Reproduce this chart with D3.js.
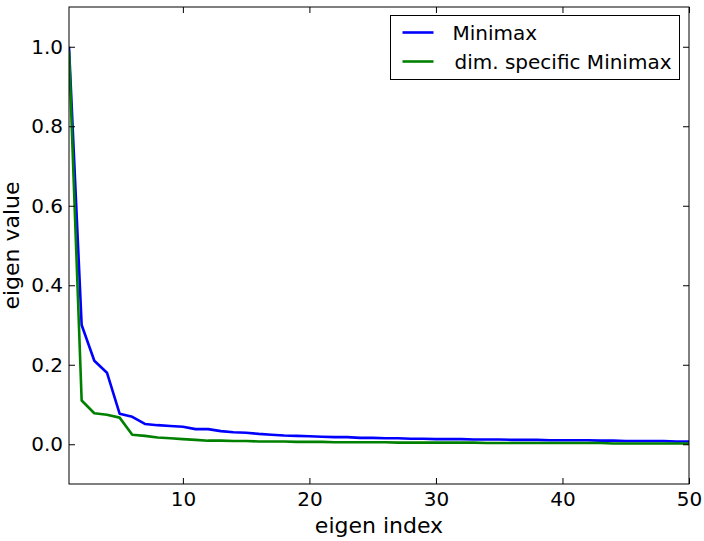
<!DOCTYPE html>
<html>
<head>
<meta charset="utf-8">
<script src="https://cdn.jsdelivr.net/npm/d3@7"></script>
<style>
  body { margin: 0; background: #fff; }
  svg { font-family: 'DejaVu Sans', sans-serif; }
</style>
</head>
<body>
<div id="chart"></div>
<script>
const indices = d3.range(1, 51)

const minimax = [1.0, 0.30, 0.21, 0.18, 0.077, 0.069, 0.051, 0.048, 0.046, 0.044,
  0.038, 0.038, 0.033, 0.030, 0.029, 0.026, 0.024, 0.022, 0.021, 0.020,
  0.019, 0.018, 0.018, 0.016, 0.016, 0.015, 0.015, 0.014, 0.014, 0.013,
  0.013, 0.013, 0.012, 0.012, 0.012, 0.011, 0.011, 0.011, 0.010, 0.010,
  0.010, 0.010, 0.009, 0.009, 0.008, 0.008, 0.008, 0.008, 0.007, 0.007]

const dimMinimax = [0.99, 0.11, 0.078, 0.074, 0.067, 0.024, 0.021, 0.017, 0.015, 0.013,
  0.011, 0.009, 0.009, 0.008, 0.008, 0.007, 0.007, 0.007, 0.006, 0.006,
  0.006, 0.005, 0.005, 0.005, 0.005, 0.005, 0.004, 0.004, 0.004, 0.004,
  0.004, 0.004, 0.004, 0.003, 0.003, 0.003, 0.003, 0.003, 0.003, 0.003,
  0.003, 0.003, 0.003, 0.002, 0.002, 0.002, 0.002, 0.002, 0.002, 0.002]

const seriesNames = ['Minimax', 'dim. specific Minimax']
const seriesColors = ['#0000ff', '#008000']
const xTicks = [10, 20, 30, 40, 50]
const yTicks = [0.0, 0.2, 0.4, 0.6, 0.8, 1.0]

const width = 704
const height = 541
const margin = {top: 7, right: 15, bottom: 57, left: 69}
const iw = width - margin.left - margin.right
const ih = height - margin.top - margin.bottom

const svg = d3.select('#chart')
.append('svg')
.attr('width', width)
.attr('height', height)

const g = svg.append('g')
.attr('transform', 'translate(' + margin.left + ',' + margin.top + ')')

const x = d3.scaleLinear().domain([1, 50]).range([0, iw])
const y = d3.scaleLinear().domain([-0.1, 1.1]).range([ih, 0])

const line = d3.line()
.x((d, i) => x(indices[i]))
.y(d => y(d))

const clip = svg.append('clipPath').attr('id', 'clip')
clip.append('rect').attr('width', iw).attr('height', ih)

const lines = g.append('g').attr('clip-path', 'url(#clip)')

;[minimax, dimMinimax].forEach((s, k) => {
	lines.append('path')
	.datum(s)
	.attr('d', line)
	.attr('fill', 'none')
	.attr('stroke', seriesColors[k])
	.attr('stroke-width', 2.6)
	.attr('stroke-linejoin', 'round')
})

// ticks inside, on all sides (classic matplotlib look)
const tickLen = 6
const fmt = d3.format('.1f')

const axisStyle = sel => {
	sel.select('.domain').remove()
	sel.selectAll('.tick line').attr('stroke', '#000').attr('stroke-width', 1)
	sel.selectAll('.tick text').attr('font-size', 20).attr('fill', '#000')
	sel.attr('font-family', null)
}

g.append('g')
.attr('transform', 'translate(0,' + ih + ')')
.call(d3.axisBottom(x).tickValues(xTicks).tickSizeInner(-tickLen).tickSizeOuter(0).tickPadding(8))
.call(axisStyle)

g.append('g')
.call(d3.axisTop(x).tickValues(xTicks).tickSizeInner(-tickLen).tickSizeOuter(0).tickFormat(''))
.call(axisStyle)

g.append('g')
.call(d3.axisLeft(y).tickValues(yTicks).tickFormat(fmt).tickSizeInner(-tickLen).tickSizeOuter(0).tickPadding(6))
.call(axisStyle)

g.append('g')
.attr('transform', 'translate(' + iw + ',0)')
.call(d3.axisRight(y).tickValues(yTicks).tickSizeInner(-tickLen).tickSizeOuter(0).tickFormat(''))
.call(axisStyle)

g.append('rect')
.attr('width', iw)
.attr('height', ih)
.attr('fill', 'none')
.attr('stroke', '#000')
.attr('stroke-width', 1)

// axis labels
svg.append('text')
.attr('x', margin.left + iw / 2)
.attr('y', 533)
.attr('text-anchor', 'middle')
.attr('font-size', 22)
.text('eigen index')

svg.append('text')
.attr('transform', 'translate(19,' + (margin.top + ih / 2) + ') rotate(-90)')
.attr('text-anchor', 'middle')
.attr('font-size', 22)
.text('eigen value')

// legend
const legend = svg.append('g')
.attr('transform', 'translate(390.5,15.5)')

legend.append('rect')
.attr('width', 289)
.attr('height', 64)
.attr('fill', '#fff')
.attr('stroke', '#000')
.attr('stroke-width', 1)

seriesNames.forEach((name, i) => {
	const ly = 17 + i * 29
	legend.append('line')
	.attr('x1', 12).attr('x2', 43)
	.attr('y1', ly).attr('y2', ly)
	.attr('stroke', seriesColors[i])
	.attr('stroke-width', 2.6)
	legend.append('text')
	.attr('x', i === 0 ? 62 : 64)
	.attr('y', ly + 7)
	.attr('font-size', 20)
	.text(name)
})
</script>
</body>
</html>
